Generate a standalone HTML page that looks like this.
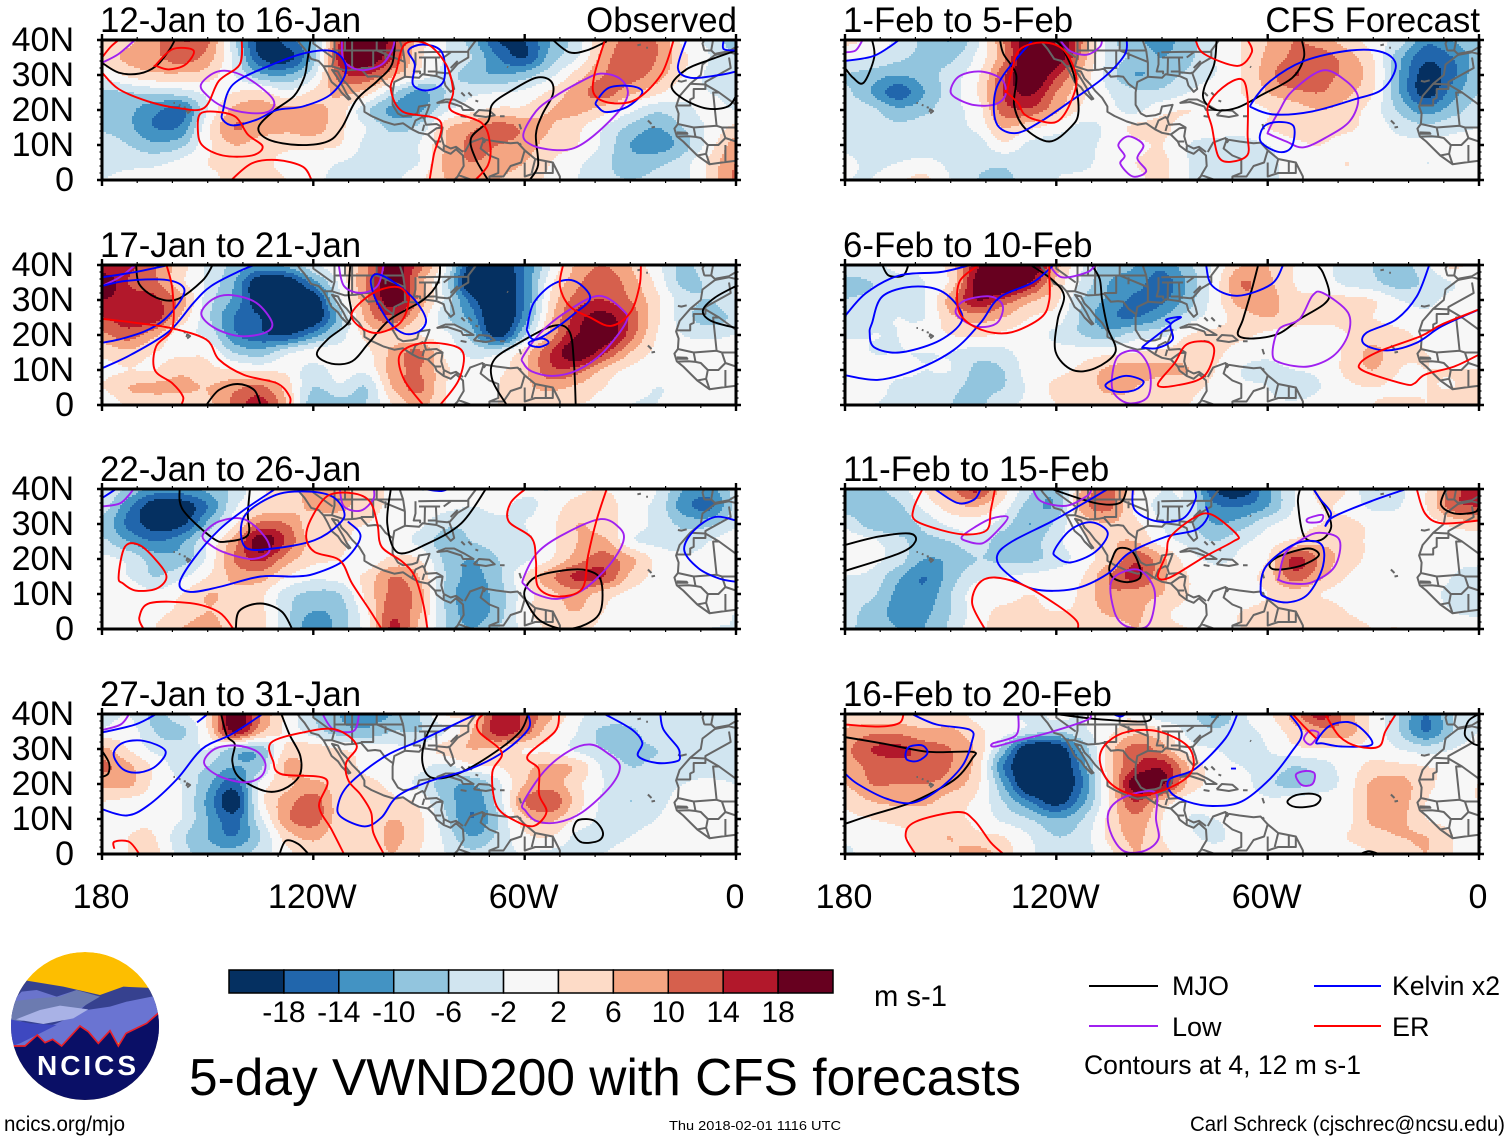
<!DOCTYPE html>
<html lang="en">
<head>
<meta charset="utf-8">
<title>5-day VWND200 with CFS forecasts</title>
<style>
html,body{margin:0;padding:0;background:#fff;}
svg{display:block;}
text{font-family:"Liberation Sans",Arial,sans-serif;fill:#000;}
</style>
</head>
<body>
<svg id="chart" xmlns="http://www.w3.org/2000/svg" width="1510" height="1141" viewBox="0 0 1510 1141">
  <defs>
    <clipPath id="logo-clip"><circle cx="85" cy="1026" r="74"/></clipPath>
  </defs>
  <rect x="0" y="0" width="1510" height="1141" fill="#fff"/>
  <g id="panels"></g>

  <g id="colorbar"></g>
  <text x="874" y="1006" font-size="30" textLength="73" lengthAdjust="spacingAndGlyphs">m s-1</text>

  <text x="189" y="1095" font-size="52" textLength="832" lengthAdjust="spacingAndGlyphs">5-day VWND200 with CFS forecasts</text>

  <g>
    <line x1="1089" x2="1158" y1="986" y2="986" stroke="#000" stroke-width="2"/>
    <text x="1172" y="995" font-size="27">MJO</text>
    <line x1="1314" x2="1381" y1="986" y2="986" stroke="#0000ff" stroke-width="2"/>
    <text x="1392" y="995" font-size="27" textLength="108" lengthAdjust="spacingAndGlyphs">Kelvin x2</text>
    <line x1="1089" x2="1158" y1="1026" y2="1026" stroke="#a020f0" stroke-width="2"/>
    <text x="1172" y="1036" font-size="27">Low</text>
    <line x1="1314" x2="1381" y1="1026" y2="1026" stroke="#ff0000" stroke-width="2"/>
    <text x="1392" y="1036" font-size="27">ER</text>
    <text x="1084" y="1074" font-size="27" textLength="277" lengthAdjust="spacingAndGlyphs">Contours at 4, 12 m s-1</text>
  </g>

  <text x="4" y="1131" font-size="21" textLength="121" lengthAdjust="spacingAndGlyphs">ncics.org/mjo</text>
  <text x="669" y="1130" font-size="13" textLength="172" lengthAdjust="spacingAndGlyphs">Thu 2018-02-01 1116 UTC</text>
  <text x="1190" y="1131" font-size="21" textLength="315" lengthAdjust="spacingAndGlyphs">Carl Schreck (cjschrec@ncsu.edu)</text>

  <g clip-path="url(#logo-clip)">
    <circle cx="85" cy="1026" r="74" fill="#fdbe00"/>
    <g transform="translate(0,940) scale(0.33333)">
      <polygon fill="#36418f" points="30,190 80,122 190,140 300,165 370,140 480,145 480,300 30,300"/>
      <polygon fill="#6a74cc" points="30,190 65,155 110,150 170,170 230,150 280,175 240,210 30,250"/>
      <polygon fill="#6c7bb0" points="30,185 110,175 180,170 230,150 300,170 240,205 120,230 30,250"/>
      <polygon fill="#6a74d2" points="260,210 330,200 380,185 480,165 480,300 40,330 40,300 170,250"/>
      <polygon fill="#a9b2e6" points="48,238 120,210 180,197 265,208 220,235 130,252"/>
      <polygon fill="#3e48c0" points="30,238 90,250 170,255 60,310 30,320"/>
      <polygon fill="#0a0f66" stroke="#e8202a" stroke-width="5" points="38,318 75,318 112,285 135,308 158,298 185,318 240,258 265,275 295,310 330,272 355,318 378,280 440,250 480,215 490,500 20,500"/>
    </g>
    <text x="37" y="1075" font-size="28" font-weight="bold" textLength="99" lengthAdjust="spacing" style="fill:#fff">NCICS</text>
  </g>
</svg>

<script>
// ---------- chart data ----------
const lonGrid = [180,172.5,165,157.5,150,142.5,135,127.5,120,112.5,105,97.5,90,82.5,75,67.5,60,52.5,45,37.5,30,22.5,15,7.5,0];
const latGrid = [40,35,30,25,20,15,10,5,0];
const latTicks = [40,30,20,10,0];
const latLabels = ["40N","30N","20N","10N","0"];
const lonTicks = [180,120,60,0];
const lonLabels = ["180","120W","60W","0"];
const colorLevels = [-18,-14,-10,-6,-2,2,6,10,14,18];
const colorLabels = ["-18","-14","-10","-6","-2","2","6","10","14","18"];
const fillColors = ["#053061","#2166ac","#4393c3","#92c5de","#d1e5f0","#f7f7f7","#fddbc7","#f4a582","#d6604d","#b2182b","#67001f"];
const panelTitles = ["12-Jan to 16-Jan","1-Feb to 5-Feb","17-Jan to 21-Jan","6-Feb to 10-Feb","22-Jan to 26-Jan","11-Feb to 15-Feb","27-Jan to 31-Jan","16-Feb to 20-Feb"];
const panelTags = ["Observed","CFS Forecast","","","","","",""];

const vwndJan12 = [
[4,5,9,14,11,-5,-20,-16,-8,14,24,16,4,-2,-8,-18,-18,-10,-4,6,12,10,1,-3,-8],
[4,7,9,12,8,-3,-18,-20,-8,16,22,14,3,-2,-6,-14,-18,-8,-2,8,13,10,3,-2,-6],
[-1,3,5,5,4,-2,-9,-10,-3,12,14,7,1,-4,-8,-10,-8,-3,4,10,12,8,2,-3,-5],
[-7,-6,-5,-4,-1,2,3,-1,3,7,4,-5,-11,-6,-3,-2,-1,3,8,12,7,3,-1,-2,-3],
[-8,-9,-13,-15,-2,7,8,7,7,4,-5,-11,-11,-3,1,3,3,6,7,4,-1,-5,-3,-1,-2],
[-7,-9,-14,-13,1,10,8,7,8,3,-2,-7,-5,5,9,12,9,6,3,-2,-7,-10,-6,-1,3],
[-3,-6,-9,-7,1,6,4,3,3,2,-3,-4,-2,6,11,10,8,4,2,-3,-10,-12,-8,0,8],
[-3,-3,-3,-1,2,3,3,1,0,-2,-3,-3,-2,7,10,8,6,2,-1,-5,-8,-7,-4,3,10],
[-2,-1,0,0,1,3,3,2,-1,-3,-3,-3,1,6,8,6,4,1,-2,-5,-6,-5,-3,3,11]];
const vwndFeb1 = [
[3,1,-3,-7,-10,-3,10,22,24,10,-4,-9,-11,-8,-2,2,6,10,8,4,0,-4,-13,-10,-7],
[-1,-2,-5,-7,-7,-1,9,24,22,8,-3,-7,-10,-7,-2,2,7,11,12,8,2,-9,-17,-14,-8],
[-6,-8,-10,-8,-4,1,13,24,15,5,-4,-10,-8,-5,-2,2,8,14,11,9,3,-10,-20,-15,-7],
[-5,-10,-16,-10,-4,2,14,19,10,3,-2,-5,-5,-2,1,2,6,9,10,7,2,-10,-20,-12,-6],
[-3,-5,-9,-7,-3,0,12,13,7,1,-1,-3,1,2,1,0,2,4,6,4,0,-7,-12,-8,-4],
[-3,-4,-5,-4,-3,-1,6,3,0,-3,-1,3,3,0,0,-1,2,4,4,3,0,-3,-5,-3,-2],
[-3,-4,-4,-4,-3,-4,1,-3,-4,-3,-1,1,2,-2,-3,-3,-2,1,2,0,-1,-1,-1,-1,-1],
[-1,-3,-2,-1,-3,-5,-5,-4,-3,-3,0,2,3,-2,-3,-3,-3,0,1,2,1,1,-2,0,0],
[-2,-2,1,3,-2,-6,-7,-4,-2,-1,0,1,3,-2,-3,-2,-3,0,1,1,0,0,-1,0,0]];
const vwndJan17 = [
[14,15,10,4,-3,-7,-11,-9,-3,1,9,20,12,-1,-20,-22,-14,-2,7,10,6,-1,-7,-3,-2],
[22,14,11,3,-3,-10,-22,-22,-12,-1,10,22,8,-4,-24,-24,-14,1,9,13,8,1,-7,-5,-2],
[18,16,15,8,-4,-11,-22,-24,-22,-3,9,21,9,-3,-16,-24,-14,3,12,14,10,3,-4,-6,-2],
[14,16,16,5,-5,-14,-18,-24,-22,-8,7,13,5,-5,-12,-24,-12,5,16,20,13,3,-4,-8,-5],
[9,12,7,-1,-3,-13,-17,-18,-12,-4,3,5,2,-1,-8,-20,-6,8,18,22,12,2,-2,-3,-2],
[3,5,2,1,1,-6,-8,-3,0,0,1,7,11,1,-3,-3,4,14,22,15,6,1,0,0,0],
[1,2,2,5,3,2,1,1,-4,0,-1,8,10,3,-1,1,5,13,12,5,1,0,0,0,0],
[2,6,7,7,6,9,11,4,-6,-3,-6,6,11,2,-1,2,5,7,5,2,0,-2,-1,0,0],
[-2,3,3,3,5,11,16,6,-9,-8,-6,2,7,2,0,2,4,3,2,1,-2,-2,0,0,0]];
const vwndFeb6 = [
[-4,-3,-1,-1,4,17,24,24,8,-2,-8,-10,-13,-7,-1,6,6,2,-1,-3,-6,-8,-3,3,-1],
[-7,-6,-3,-2,3,20,26,18,5,-3,-10,-12,-16,-9,0,10,7,2,0,-3,-5,-8,-5,-2,-1],
[-6,-5,-3,-2,8,18,13,7,3,-6,-11,-15,-15,-8,0,8,8,3,3,3,2,-2,-3,-1,-2],
[-6,-3,-2,-2,5,8,6,2,0,-7,-13,-14,-10,-4,0,4,6,4,3,3,2,0,-1,0,-1],
[-3,-2,-2,0,2,3,1,0,-3,-6,-8,-4,-3,2,3,3,1,0,0,2,4,3,1,0,0],
[0,-2,-2,-2,-2,-4,-3,0,0,0,1,2,3,4,3,0,-1,0,-1,3,7,3,2,1,1],
[-2,0,-1,-2,-2,-7,-6,0,1,3,7,8,7,6,2,-2,-3,-2,-1,3,6,2,2,2,2],
[-2,0,-3,-3,-5,-7,-6,-1,3,4,7,6,3,3,1,-1,-2,-5,-2,1,2,1,2,2,3],
[-2,-2,-3,-4,-6,-7,-3,-1,2,4,4,5,3,2,1,2,-1,-1,0,1,2,3,2,3,3]];
const vwndJan22 = [
[-3,-7,-12,-12,-9,-5,1,4,7,7,4,1,-2,-1,0,0,-1,-2,1,2,-1,-2,-10,-12,-4],
[-4,-13,-21,-21,-14,-3,3,4,7,7,4,1,0,-1,-2,-1,-3,0,4,5,-1,-3,-12,-15,-5],
[-7,-15,-20,-19,-9,1,11,10,3,3,2,0,-1,-5,-5,-3,-2,1,6,4,0,-3,-7,-7,-3],
[-5,-10,-14,-11,-2,8,21,13,4,3,0,0,-3,-8,-6,-4,-3,1,6,7,-1,-3,-4,-2,1],
[-1,-3,-8,-8,-1,10,15,8,3,2,-1,3,2,-7,-10,-6,-3,2,8,12,7,1,-1,-1,2],
[0,-2,-6,-3,2,7,8,2,-1,0,3,10,6,-6,-11,-7,2,9,15,14,5,1,0,0,1],
[0,1,-1,2,6,5,3,-4,-7,-6,3,11,8,-7,-12,-8,0,5,8,4,1,0,-1,-1,-1],
[0,1,1,3,6,4,3,-5,-10,-8,1,13,7,-6,-12,-8,1,4,6,2,0,0,0,-1,-2],
[0,1,2,6,8,4,3,-5,-13,-8,0,15,5,-6,-10,-6,-1,3,3,1,-1,-1,-1,-2,-2]];
const vwndFeb11 = [
[-6,-7,-4,2,9,15,4,-5,-9,7,11,2,-2,-3,-18,-21,-11,-2,3,2,-6,-3,2,12,16],
[-8,-8,-7,-1,4,6,0,-8,-9,8,11,1,-3,-3,-13,-14,-10,-2,2,1,-3,-2,2,12,14],
[-3,-8,-8,-5,-1,0,-4,-10,-5,3,6,3,-2,-5,-10,-8,-3,0,2,3,1,0,0,3,5],
[0,-1,-5,-7,-6,-3,-9,-8,-3,1,5,6,0,-3,-6,-3,0,3,5,4,1,0,0,0,-1],
[-1,-1,-4,-10,-9,-6,-7,-7,-4,0,5,13,7,0,-3,-1,2,15,9,4,1,0,0,-1,-1],
[-2,-3,-9,-14,-8,-3,-2,-1,0,2,10,15,7,2,0,0,4,12,7,2,0,0,0,-2,-4],
[-3,-5,-11,-13,-6,0,0,2,0,3,9,8,6,2,0,0,2,4,2,0,0,0,-1,-3,-6],
[-4,-8,-11,-11,-6,0,3,3,2,3,7,7,3,1,1,2,3,4,5,2,1,1,0,-2,-3],
[-5,-8,-10,-10,-5,1,3,4,3,3,3,6,3,2,2,2,3,5,3,3,2,2,1,0,0]];
const vwndJan27 = [
[-4,-2,-7,-3,3,22,10,1,-6,-10,-12,-10,-6,2,3,16,13,7,-1,-3,-3,-3,-3,-5,-6],
[-1,0,-6,-7,2,18,7,1,-4,-8,-9,-6,-6,-2,6,16,12,3,-2,-7,-7,-3,-3,-3,-5],
[7,2,-3,-4,-2,-7,-8,3,4,2,0,-1,-1,4,6,5,2,1,-3,-6,-7,-6,-4,-3,-5],
[11,7,1,-4,-6,-10,-7,7,4,4,1,0,-1,-3,1,2,5,7,5,-3,-6,-5,-4,-4,-5],
[7,7,1,-2,-9,-16,-1,5,7,4,3,1,-3,-8,-10,-3,6,8,3,-2,-4,-3,-2,-1,-2],
[2,1,0,-2,-11,-21,0,8,12,4,3,3,1,-7,-13,-4,10,13,4,-3,-6,-3,-1,0,-1],
[0,1,1,-2,-10,-16,-3,9,12,4,3,6,3,-5,-14,-6,5,7,1,-3,-3,-2,0,-1,-1],
[0,2,2,-5,-10,-14,-6,4,7,3,3,7,3,-3,-10,-5,1,2,-3,-3,-2,-1,1,0,-1],
[-2,2,3,-4,-8,-8,-4,1,4,3,3,6,2,-2,-5,-3,-2,-3,-3,-2,-1,-1,0,0,0]];
const vwndFeb16 = [
[2,3,3,2,3,1,-1,-3,-1,-2,1,1,-5,-4,-11,-3,1,8,16,8,1,-6,-14,-6,-2],
[7,9,9,7,7,3,0,-4,-6,-3,1,5,3,-3,-5,-3,-1,4,8,8,1,-6,-14,-6,-2],
[9,14,15,12,10,5,-8,-23,-22,-9,4,12,8,0,-2,-3,-2,1,2,1,1,-2,-4,-2,0],
[8,11,12,13,10,4,-14,-24,-24,-12,4,14,17,6,0,-2,-3,-6,-4,0,3,3,2,1,1],
[6,10,10,10,8,3,-10,-24,-24,-14,3,21,19,5,1,0,-5,-7,-5,0,7,8,3,1,2],
[3,6,7,7,4,1,-6,-14,-20,-11,2,14,5,0,0,1,-1,0,1,1,7,8,2,1,2],
[1,2,3,3,3,1,-3,-6,-10,-6,3,9,2,-2,-2,0,0,1,1,1,7,7,2,1,1],
[-1,0,1,4,6,3,2,-2,-6,-4,3,7,2,-1,-3,0,0,0,0,2,4,6,6,2,0],
[-3,0,1,3,5,8,4,-1,-5,-4,1,6,3,1,0,0,0,0,1,1,2,3,6,2,0]];
const vwndPanels = [vwndJan12,vwndFeb1,vwndJan17,vwndFeb6,vwndJan22,vwndFeb11,vwndJan27,vwndFeb16];

// contour series: one list per panel, each contour is lon,lat,lon,lat... (degrees W, degrees N)
const mjoContours = [
 [[180,33.5,175.3,30.7,169.4,30.4,164.6,32.6,161,37,159.3,40],
  [120.8,40,121.7,34,122.6,29.3,125.5,24,131.4,19.6,135.6,14.9,132.6,11.5,124.3,10,116,11,111.9,15,107.7,23,101.8,28.3,97.7,33,96.8,40],
  [52,40,47.3,36.5,42.5,37,36.7,39.6],
  [70.4,0,74,6.2,75.2,12,70.4,16.8,69.2,21.6,64,25.4,56.8,29.2,52.6,28.3,52,24.4,55,18.7,56.8,13,56.2,4.3,58.6,0],
  [0,37,7,34.5,14.1,31.6,18.3,26.9,14.7,23,8.2,20.4,2.3,21,0,24]],
 [[172.3,40,171.7,35,174.7,27.8,177.7,29.2,180,32],
  [136,40,135,36,131.4,30,132,21.5,129,14.9,122,11,116,15,113.7,19.6,115,30,118.4,37.9,120.8,40],
  [74.5,40,75.2,33,78,26.4,78,22.6,74.6,20,68.6,20.7,61.5,24.4,53,29.2,49.7,35,50.3,40]],
 [[170.3,40,169.4,34.5,164.6,30.7,158.7,30.2,151.6,35.4,148.6,40],
  [109.5,40,110,32,109.5,24.4,116,18.7,119,14.4,114.8,11.8,109,12.5,104.2,17.8,98.3,24.4,88.8,30,84.6,35,84,40],
  [150.4,0,146.8,4.3,141.5,6,136.8,4.3,135,0],
  [65.1,0,69.2,7.2,68.6,13,61.5,17.8,52,22.6,47.3,21,46,11.8,45.5,0],
  [0,34,6,30.7,9.4,27,7,24,0,22]],
 [[169.4,40,167.6,37,163.5,37,162,40],
  [127.3,40,120.8,35.5,117.8,31,119.6,24.4,120.2,15.2,115.4,10,109,10.5,103.2,15.2,105.4,22,107,30,107.7,36,110,40],
  [62.7,40,64.5,33,67,24.5,68.4,20,64,19,56.8,20.4,51,24.5,44,28.8,42.5,32,44.3,37.8,46,40]],
 [[158,40,157,34,148.6,26,144.5,25,138.6,26.8,138.6,33,138,40],
  [98,40,99,30,96,21.8,87.6,24.4,78,30.2,71,40],
  [142,0,141,5.2,135,7.3,129,5,126,0],
  [60,11,56.8,14.9,48.5,16.8,42.5,16.8,38.4,14,38.4,5.3,42.5,1.4,49,0,55.6,2.4,59.2,7.2]],
 [[180,24,170.5,26.4,161.7,27.3,160,25,164.6,21.6,180,16.6],
  [121.4,40,109,36,102,36,100,40],
  [104.2,20,102.4,23,98.3,22,96,15.3,99.5,13.4,103.6,14.4,105,17],
  [50.8,40,51.4,36,49.6,26.4,45,25.4,42,29,43.4,34,47,40],
  [59.4,18.7,56.2,21,48.5,23,45.5,21,50.8,18,57.9,17],
  [9.4,40,10.8,35.5,7,33,1,33.5,0,36]],
 [[180,29.5,178,26,178.2,23,180,22],
  [129.1,40,126.7,34,123.7,28,124,22.3,128.5,18.5,133.8,18,141,21.8,143,26.5,142.3,31.4,144.5,33.7,146.2,40],
  [129.6,0,127.8,3.8,124.3,2.9,121.4,0],
  [84.6,40,88.2,32.8,89,26,86.4,21.8,79.3,22.8,70,28,61.5,34.7,59,40],
  [46,8,44.5,9.8,40.2,9.5,37.8,6.2,39,3.8,43.7,3.3,46,5.7]],
 [[180,33.4,169.4,31.6,156.3,29.2,143.9,29.2,143.9,27.3,148,22,154,18.2,162.3,14.3,173,11,180,8.6],
  [120,40,109,38.6,94.7,37.9,93.3,40],
  [54.4,14.9,52,16.8,47.3,17.2,45,16,46.7,13.9,52,13.4],
  [0,40,3,38,4,34,1.8,31.6,0,31],
  [33.6,0,31.3,0.8,28.4,0]]
];
const lowContours = [
 [[180,33.5,175.3,36,170.7,40],
  [151.9,27.3,148,30.7,143.3,31,137.4,28.3,131.4,23,132.6,19.6,138.6,19.2,145.7,21,150.4,24.4],
  [111.9,40,111.3,34,106.5,31.4,100.6,33,97.7,37,96.9,40],
  [60.4,13,56.8,19.6,52,23.5,43.7,28.3,38.4,30.4,33,29,30.7,25,33,20,40,13,46,9.1,52,8.6,58,10]],
 [[180,36.5,177,37,175,40],
  [150,25.8,147.5,29.7,141.5,31,135.6,28.8,134.4,24.4,137.4,21.6,143.3,21.4,148.6,23.5],
  [119,40,116,36.8,111.3,35.8,107.7,38,107,40],
  [102.4,10,99.5,12.5,95.3,10,97,6.2,94.5,2.5,98.3,1,101.8,4.6,100.6,6.9],
  [59.8,14,56.8,19.6,53,25.4,44.4,31.3,37.8,28.3,34.3,23.5,36.7,16.8,43.7,12,50,9.3,54.7,11,59.3,13]],
 [[180,34,175,36.5,170.5,40],
  [151.8,26,148.6,30.2,143.3,31.4,136.2,29.2,131.7,23.5,133.8,20.6,141,19.7,148,22],
  [112.8,40,111.3,34,106.6,32,101.8,34,100,40],
  [60.4,14,55.5,20.6,48.5,26.4,39,31.2,32,27,31.3,23.5,37.8,15,44.9,10,52,8.3,58,9.6,60.4,12]],
 [[148.6,27,145.7,30,138.6,31,135.2,28.3,136.8,23.5,142,22.3,146.8,24.4],
  [122,40,118.4,36.5,111.3,37.9,109,40],
  [104.2,8,102.4,14,97,15.3,93.5,10,94,2.4,99.4,0.5,103.6,3.3],
  [58.6,14.4,56.8,21.6,51,24.5,47.3,31.2,44.3,32,37.2,26.4,37.2,20,41.4,14,48.5,11,56.2,12]],
 [[180,35,174.7,36,171,40],
  [151.4,26.8,146.8,30.7,139.7,31.4,133.8,26.4,132.6,22,137.4,20,144.5,21.6,149.2,24],
  [112.5,40,111.3,35,106.6,33.8,103,37,102.8,40],
  [60.4,14.4,56.2,22,48.5,27.3,38.4,31.4,33,28.8,32,25,36,18.2,43.7,11,50.8,8.6,56.8,10,59.8,12.4]],
 [[126.7,40,124.3,36.5,117.2,35.2,111.3,38,110,40],
  [146.8,26.4,143.3,29,138.6,31.5,133.8,32,136.8,28,141,24.5,145.7,25.2],
  [104.2,14,97,17,92.4,12,92.4,5.2,94.7,0.5,100.6,1,103.6,5.2],
  [48.5,31.6,44.5,32.6,45,30.7,48.5,30.5],
  [56.8,14.9,55,21.6,49.6,26,45,27.5,39.6,25.4,41,17.8,47.3,13.4,53.2,13,56.8,14]],
 [[180,35.4,174.7,37,172.3,40],
  [151,26,148,30,142,31,136.2,29.4,133.6,25.7,135,22,139.7,20.5,146.8,22.3],
  [117.4,40,114.3,35.6,108.5,35.2,107,40],
  [60.4,14.7,54.4,23.7,47.3,29.5,41.4,31.3,36.7,29,33,25.2,35.5,19.5,43.7,11.9,50.8,9,56.8,9.5,59.8,12.4]],
 [[130.8,40,131.4,34,138,31.6,137.4,30.7,131.4,32.3,122,34.7,111.3,38.3,110.4,40],
  [105.4,11,103,14.9,97,17.5,91.7,17.3,91.7,10,91,4.4,94.7,1,100.6,0.7,104.2,5.2],
  [49.7,33,48,35.2,45.5,34.5,47.3,31.6,48.5,31.4],
  [52,22.6,49.3,23.7,46.7,23,47.3,20,50.3,19.7]]
];
const kelvinContours = [
 [[145.7,19.6,142.8,27.3,132.6,32.6,121.4,36.5,113.7,36.5,110.7,31.2,115,24.5,123,21,130.3,20,136.2,17.2,142.7,15.6,145.7,17.2],
  [93,37,88.8,38.7,83.5,36.5,83,28.3,87.6,25.6,91.7,27.3,91.2,33],
  [39.6,22.5,36,26.4,29.6,26.8,26.6,25,30.7,21,36.7,19.4,39.3,21],
  [14.1,40,16.5,32,12.9,29.2,4.7,30,0,31],
  [3.5,40,3.5,37.4,0,37]],
 [[180,34,171.7,35.5,164.6,40],
  [126.7,40,135,30,137.6,23.5,136.8,15.8,131.4,13.4,124.3,16.8,116,22.5,106.6,29.2,100.6,35.8,100,40],
  [64.5,22,59.2,28.3,49.7,34,36.7,37,27.3,36.5,23.6,32.6,27.3,26,35.5,23,47.3,19.6,58,18.7,64,20.5],
  [61,15.3,56.8,16.6,52.6,15.3,53.2,9.5,56.8,8,62,11]],
 [[180,36.5,170.5,38,161,40],
  [180,34,173,35.5,162.3,35.8,157,33.8,157.5,30.2,162.3,24.4,168,21,175.3,18.7,180,17.8],
  [180,10.5,171.7,14.4,161,21,154,29.2,149,34,141.5,38,136.8,40],
  [103.6,36,101.8,37.4,97,35,91.2,30,88,24.4,90,21,94.2,20.4,98.3,23.5,101.8,29.2,103.3,33],
  [59.2,22.6,57.4,29.2,52,34.5,46,35.5,41.4,30.7,46,26,53.2,20.6,57.4,18.7,59.2,21],
  [58.6,18,55,19,53.2,17.8,55.6,16.6,58.3,17]],
 [[180,25.4,174,32,164.6,37,152.8,38,144.5,40],
  [172.3,23.5,169.4,31,161,33.8,152.8,32.6,147.4,27.3,147.4,23,154,18,164.6,15,171.7,16.5,173,20.6],
  [180,8.5,170.5,7.2,160,10,149,15.8,141.5,23.5,136.2,30.7,126.7,35,120.8,40],
  [106,5.8,100.6,8.3,95.3,6.8,97.7,4.3,103,3.8],
  [95.3,16.8,90,21,87.6,23,88.8,24.4,84.6,25.1,87.6,23,87,18.7,91.2,16.3,94.7,16.3],
  [77.5,40,75.7,34,68.6,31.2,59,34.5,55.6,40],
  [14.1,40,17.7,31,23.6,24.4,32,20.6,32.5,17.3,26,15.6,17.7,17.8,10.6,22.5,0,27.3]],
 [[180,37.4,176,40],
  [110.2,30.7,106.6,26.4,111.3,19.6,119.6,15.8,125.5,15,135,15,146.8,12,155,10.6,158,13,154,20,146.8,28.3,139.7,34,130.8,40],
  [139.7,32,139.4,23.5,131.4,23,119.6,25.4,112.5,30.2,111.3,33.6,114.9,38,123,39.3,131.4,38],
  [88.8,40,84,39.4,81.8,40],
  [0,31,6,32,11.8,28.3,14.7,22.6,10.6,17.3,4.7,14.4,0,13.5]],
 [[154.5,40,148,36,143.3,37,141.5,40],
  [98.3,40,97.7,34,91.2,30.7,84,31.6,80.5,37,80.8,40],
  [105.4,40,111.3,36.5,120.8,31,132.6,25,136.8,21,135,16.8,126.7,11.5,114.9,11.5,105.4,15.8,99.5,21.6,88.8,26.4,80.5,28.3,77,32,77.5,35],
  [120.5,22.6,116,28.3,110,30.5,105.4,27.4,109,22,116,19,120,20.6],
  [62,11,60.4,18,52,24.4,45,24.4,44.3,18,48.5,10,54.4,7.6,60.4,9],
  [47,40,45,37,42,33,43.7,29.3],
  [43.7,29.3,41.4,32,30.7,36.5,20.6,40]],
 [[180,34.7,170.5,37,164.6,40],
  [180,12.8,173,11,167,13.8,158.7,21.4,151.6,30,143.3,34.2,134.4,40],
  [176.7,28.5,174,31.8,168,32.3,162,29.5,164.6,25.2,169.4,23.3,174,24.2],
  [153,37.6,150,40],
  [73.7,40,88.8,32.8,99.5,28,109.8,20,113,14,112,10.5,105.4,7.9,100.6,10.5,96,16.6,86.4,21,75.7,24.2,66.3,29,59,35.6,59,40],
  [37.3,40,29.6,35.6,26.6,31.8,27.8,28,22.4,26,16.5,26.6,16,28.5],
  [21.5,40,20.6,35.6,16.5,30.4,16,28.5]],
 [[161,40,154,37,144.5,35.5,144,32,146.8,25,154,18,161,14.6,168.2,15.8,176.4,20,180,23],
  [162.8,28.8,161.6,30.7,158,31,156.6,28.8,159.3,26.6,162.3,26.9],
  [104,40,101.8,39.3,100.4,40],
  [68.6,40,72,33,80.5,24.4,87.8,21.4,87.6,17.7,82.9,15,75.7,13.7,67.4,15,59.2,21.6,53.2,29.2,50.3,34.5,53.8,40],
  [70.4,24.4,69,24.4],
  [46.2,32,42.6,36.5,37.2,37.7,33,35.5,30.5,31.2,39,30.7,44.3,31.6]]
];
const erContours = [
 [[180,30.7,175.3,26,167,22.5,158.7,20.6,151,20.6,146.8,28.3,140.9,33,140.3,40],
  [180,35,177.6,38,175.3,40],
  [164.6,33,159.9,37.4,154,37,156.3,33,161,31.6,164.6,32.6],
  [152,19,147.4,19.5,142,18,138.6,13,134.4,9.6,137.4,7,145.7,7,151.6,10,152.8,14.8],
  [143.3,0,137.4,4.8,130.3,5.7,123,3.8,120.5,0],
  [87,0,85.8,7.2,84,16.8,94.7,19.6,98,25.9,96.5,31,94,38.8,87.6,38.8,82.3,33,80.3,25.4,81,20,72.2,16.3,69.8,10.1,70.4,4.3,74,0],
  [37.2,40,40.2,30,40.2,24.4,35.5,22,28.4,23,21.2,30.2,17.7,40]],
 [[134.4,25.4,130.9,22,129,18.7,124.3,16.8,119.6,16.8,116,22,114.3,29.2,117.8,37,123.7,39.3,130.3,37.4,132.6,31.5,134,25.4],
  [80.5,40,78,36,68.6,32.6,64.5,36.5,65.7,40],
  [77,21,72.8,26.4,67.4,28.8,65.7,23.5,65.7,13,65.7,7.2,70.4,5.2,74,6.7,75.8,15]],
 [[180,24.6,170.5,23.5,160.5,22,150.4,18.7,146.8,13,139.7,8.6,130.3,6.2,126.7,2.4,126.7,0],
  [161.7,40,160,33,160,22,164.6,16.8,165,10,160,6.2,157,2.4,157.5,0],
  [109,26.4,103,32,96,33.7,93,30,95.3,23.5,101.8,20.6,107,22.5],
  [88.8,0,94.2,7.2,95.6,14,91,17.3,83,17.5,77.5,15,78.7,7.2,84,0],
  [49.1,40,50,34,47.3,28.3,41.4,25,35.5,22.6,30,26.4,27.4,34,27,40]],
 [[142,40,147.4,35.4,148,28.3,145.7,24,139.7,21,132.6,20.8,124.3,25,122,30,122,37,122,40],
  [91.2,5.7,86.4,12,83,17.3,77,18,75.2,15,78.1,8.2,85.3,5.7],
  [0,27.3,10.6,23,16.5,19.7,28.4,15.3,33.7,12,32.5,9.6,21.2,6,18.3,6.2,15.3,8.7,7,11,0,14.4]],
 [[175.3,14.9,173.5,23.5,169.4,24,164.6,19.6,161.7,14.9,164.6,11.5,170.5,11,174,13],
  [168.2,0,169.4,3.3,166.4,7.4,155,7.4,146.8,4.8,142.7,0],
  [100.6,0,104.2,5.7,109,13,112.5,19.6,119.6,22,122,25.9,120.8,31.1,116,38,109,38.8,104,36.5,101.8,30,100.6,23.5,94.7,19.2,91.2,15,88.8,7.2,87.6,0],
  [59.8,40,64,36,64.5,30.7,58,26,56.8,19.6,56.2,12,50.8,9.3,43.7,11.5,42,21,39.6,31,36.7,40]],
 [[158,40,160.5,34.5,160,31,152.8,28.3,145.7,27,139.7,28.3,138.6,34,137.4,40],
  [140.3,0,143.9,7.2,142,13,137.4,14.7,129,12.4,119.6,6.7,114.3,2.4,113.9,0],
  [91.2,15,88.8,21.3,87.6,26.4,80.5,32,75.7,32.6,68.6,26.8,69.8,25,78,20.6,87.6,14.8],
  [17.7,40,15.3,33,10.6,30.2,0,31]],
 [[100,0,103,6.2,103.6,11.9,106.6,17,110,20.9,110.7,26,107.7,31,113.7,35.6,123,34.7,132,31.8,131.4,26.5,129,22.8,116.4,21.4,118.4,13.7,114.9,7.1,111.3,0],
  [176.5,1.5,176.5,3.5,172.3,3.5,169.4,0],
  [50.2,40,51.4,35,59.2,28,56,24.2,55.9,17,53.8,12,57.4,8,62.7,9.5,68,13.8,69.2,23.3,66.5,29,72.8,34.7,73.4,38,71.7,40]],
 [[180,37,170.5,36.4,164.6,37.4,163.4,40],
  [107.7,27.3,105.4,32,99.5,35,91,35,82.9,31,81,25.4,84,21,92.4,17.3,99.5,17.3,105.4,21],
  [160,0,162.8,5.2,160,9.2,148,12,143.3,9.6,138.6,3.3,135,0],
  [53,40,49.7,36.5,46.2,33],
  [43.7,40,39.6,33.6,34.3,30.7,28.4,30.7,26.6,35,23.6,40]]
];
const contourSeries = ["mjo","low","kelvin","er"];
const contourLists = [mjoContours,lowContours,kelvinContours,erContours];
const contourColors = ["#000000","#a020f0","#0000ff","#ff0000"];

// map outline, lon,lat,lon,lat...
const mapOutlines = [
 [124.5,40,123.8,39,122.5,37.5,120.6,34.6,118.5,34,117.1,32.5,116,30.5,114.8,28,113,26.5,112,25,110,23,109.5,23.2,110.5,24.5,111.5,26.5,113,29,114.7,31.5,113,31,112,29,110.5,27.5,109,25.5,107,23.5,105.5,21,105.5,19.5,103.5,18.3,100,16.7,97,15.8,94.5,16.2,92,14.5,90,13.5,87.5,13,85.5,11,85,9.8,83,8.3,81,7.5,79.5,8.8,77.5,7,77.3,4,78.5,2,79,1,80,0],
 [77.5,8,79.5,9.5,81,9,83,10,83.7,12.5,83.3,15,85,16,88,15.8,88.5,17.5,87.5,20,87,21.5,90,21,90.5,19,92,18.5,94.5,18.2,96,19,97.5,21.5,97.5,25,97,28,94,29.5,90,29.2,89,30.2,85,29.7,83,28.8,82.5,27,81,25.2,80,26,80.5,28,81.4,30.5,79,33.2,76,35,76,37,74,39.7,74,40],
 [77,8,75.5,10.7,72,12,71.5,10.8,71,11.5,68,11,64,10.5,62,10.7,60,8.5,57,6,52,5,50,1,50,0],
 [71.5,12,72.5,9,70,7,67.5,6,67.5,2,70,1,70,0],[60,8.5,61,5,64,4,66,1,70,1],[60,5,60,1,57,2,54,2,54,5.5],[57,6,58,2],[52,5,52,2,54,2],[79,1.5,75,0],
 [92,14.5,91,17,89,18,88.5,17.5],[89,14,88.5,15.8],[87.5,13,85,14.8,83.3,15],[85.5,11,83.7,11],[83,8.3,83,9.7],
 [117,32.5,114.7,32.5,111,31.3,108,31.5,106.5,31.8,104.5,29.5,102.5,29.7,101,29.5,99.5,27.5,97.5,26],
 [114,37,94.5,37],[90,35,84,35],[114,37,114,35.2,114.7,32.5],[109,40,109,31.3],[103,37,103,32,106.5,32],[94.5,37,94,33.5,94,29.7],[91,36.5,91,33,91.5,31,89.7,31,89.7,30.2],[88.3,35,88.4,30.3],[85.2,35,85,31,85,30],[87.5,31,85,31],[85,30.8,82,30.5,81.4,30.7],[120,40,120,39,114.5,35],[114,40,114,37],[102,40,102,37],[95.5,40,94.5,37],[102,37,94,33.7],[90.2,36.5,84,36.6,76,36.6],[81,36.5,83,35],[79,34,81,32],[111,40,111,37],[99.5,36.5,99.5,34.5],
 [85,22,82.5,23,80,23,77,21.5,74.5,20,77.5,20,78,21,82,22.3,85,22],
 [74.5,18.5,73,20,70,19.8,68.5,18.5,71,18,74.5,18.5],[78.2,18.3,76.5,18],[67,18.2,65.7,18.2],[78,25,77,24],[76,25,75,24],[74,22.7,73.2,22.4],[61.5,16,61,14.5],[61.5,10.5,61,10],
 [155.8,19,155,19.7,155.8,20.2,156,19.4],[156.8,20.8,156.2,20.7],[158.2,21.5,157.7,21.3],[159.7,22,159.3,22],
 [16.5,28.3,15.5,28.1,14,28.5],[25,17,24,16],[24,15,23,15.2],[28,38.5,27,38.7],[25.5,37.8,25,37.8],[65,32.4,64.7,32.2],
 [9,37,7,37,6,36,5.3,36.2,2,36.8,0,38],[9,37,9.5,39,9,40],[6.5,40,7,37.2],
 [0,36,2,36.5,5.5,35.8,6,35.7,9.5,33,10,30,13,27.5,16,24,17,21,16.3,19,16.5,16,17.5,14.7,16.8,12.5,15,11,13,9,11,7,7.5,4.5,4,5,0,5.5],
 [2,35,1.5,32,8.7,28,8.7,27.3,13,27.5],[8.7,27.3,8.7,26,12,26,12,23.5,13,23,13,21.3,17,21.3],[8.7,27.3,4.8,25,6.5,25,5.5,15.5,12,15,16.5,16],[4.8,25,0,21.5],[5.5,15.5,4,15],[4,15,3,12,5,10,8,10,8.5,7.5,11,7],[12,15,11.5,12.3,13.5,12.5,16.7,12.4],[16.8,13.6,14,13.5,13.8,13.2,16.8,13.2],[8,10,10,12,11.5,12.3],[7.5,4.5,8.5,7.5],[3,12,0,11],[3,5,3,10],[0,15,1,15,4,15]
];

// ---------- axis functions ----------
const NS = "http://www.w3.org/2000/svg";
const frameWidth = 634, frameHeight = 140;
const colLeft = [102,845];
const rowTop = [40,265,489,714];
function makeX(x0){ return function(lon){ return x0 + (180-lon)/180*frameWidth; }; }
function makeY(y0){ return function(lat){ return y0 + (40-lat)/40*frameHeight; }; }
function el(tag){ return document.createElementNS(NS,tag); }

function cr(p0,p1,p2,p3,t){
  return 0.5*((2*p1)+(-p0+p2)*t+(2*p0-5*p1+4*p2-p3)*t*t+(-p0+3*p1-3*p2+p3)*t*t*t);
}
function sampleField(grid,lon,lat){
  const lonStep = lonGrid[0]-lonGrid[1];
  const latStep = latGrid[0]-latGrid[1];
  const fx = (lonGrid[0]-lon)/lonStep, fy = (latGrid[0]-lat)/latStep;
  const ix = Math.min(Math.floor(fx),lonGrid.length-2), iy = Math.min(Math.floor(fy),latGrid.length-2);
  const tx = fx-ix, ty = fy-iy;
  function at(r,c){
    r = Math.max(0,Math.min(latGrid.length-1,r));
    c = Math.max(0,Math.min(lonGrid.length-1,c));
    const row = grid[r];
    const v = row[c];
    return v===undefined?0:v;
  }
  const vals = [];
  for(let r=-1;r<=2;r++){
    vals.push(cr(at(iy+r,ix-1),at(iy+r,ix),at(iy+r,ix+1),at(iy+r,ix+2),tx));
  }
  return cr(vals[0],vals[1],vals[2],vals[3],ty);
}
function levelIndex(v){
  let i = 0;
  while(i<colorLevels.length && v>=colorLevels[i]) i++;
  return i;
}
function nearEdge(lon,lat){ return lat>=39||lat<=1||lon>=179.5||lon<=0.5; }
function smoothPath(pts,closed){
  const n = pts.length;
  if(n<2) return "";
  function P(i){ return closed ? pts[(i+n)%n] : pts[Math.max(0,Math.min(n-1,i))]; }
  let d = "M"+pts[0][0].toFixed(1)+" "+pts[0][1].toFixed(1);
  const segs = closed ? n : n-1;
  for(let i=0;i<segs;i++){
    const a=P(i-1),b=P(i),c=P(i+1),e=P(i+2);
    d += "C"+(b[0]+(c[0]-a[0])/6).toFixed(1)+" "+(b[1]+(c[1]-a[1])/6).toFixed(1)+" "+
         (c[0]-(e[0]-b[0])/6).toFixed(1)+" "+(c[1]-(e[1]-b[1])/6).toFixed(1)+" "+
         c[0].toFixed(1)+" "+c[1].toFixed(1);
  }
  return d+(closed?"Z":"");
}

// ---------- panels ----------
const panelsRoot = document.getElementById("panels");
panelTitles.forEach(function(title,p){
  const col = p%2, row = Math.floor(p/2);
  const x0 = colLeft[col], y0 = rowTop[row];
  const xs = makeX(x0), ys = makeY(y0);
  const g = el("g");
  
  
  panelsRoot.appendChild(g);

  const clip = el("clipPath");
  clip.setAttribute("id","clip-"+p);
  const clipRect = el("rect");
  clipRect.setAttribute("x",x0);
  clipRect.setAttribute("y",y0);
  clipRect.setAttribute("width",frameWidth);
  clipRect.setAttribute("height",frameHeight);
  clip.appendChild(clipRect);
  g.appendChild(clip);

  // filled field
  const cell = 2;
  const dParts = fillColors.map(function(){ return []; });
  const grid = vwndPanels[p];
  for(let py=0;py<frameHeight;py+=cell){
    const lat = 40-(py+cell/2)/frameHeight*40;
    let runStart = 0, runLevel = -1;
    for(let px=0;px<=frameWidth;px+=cell){
      let lev = -2;
      if(px<frameWidth){
        const lon = 180-(px+cell/2)/frameWidth*180;
        lev = levelIndex(sampleField(grid,lon,lat));
      }
      if(lev!==runLevel){
        if(runLevel>=0){
          dParts[runLevel].push("M"+(x0+runStart)+" "+(y0+py)+"h"+(px-runStart)+"v"+cell+"h-"+(px-runStart)+"z");
        }
        runStart = px; runLevel = lev;
      }
    }
  }
  const fillGroup = el("g");
  
  
  fillGroup.setAttribute("clip-path","url(#clip-"+p+")");
  g.appendChild(fillGroup);
  fillColors.forEach(function(color,i){
    if(!dParts[i].length) return;
    const path = el("path");
    path.setAttribute("d",dParts[i].join(""));
    path.setAttribute("fill",color);
    path.setAttribute("shape-rendering","crispEdges");
    
    
    fillGroup.appendChild(path);
  });

  // map outlines
  const coast = el("path");
  let cd = "";
  mapOutlines.forEach(function(line){
    for(let i=0;i<line.length;i+=2){
      cd += (i===0?"M":"L")+xs(line[i]).toFixed(1)+" "+ys(line[i+1]).toFixed(1);
    }
  });
  coast.setAttribute("d",cd);
  coast.setAttribute("fill","none");
  coast.setAttribute("stroke","#666666");
  coast.setAttribute("stroke-width","2");
  coast.setAttribute("stroke-linejoin","round");
  coast.setAttribute("clip-path","url(#clip-"+p+")");
  
  
  g.appendChild(coast);

  // contours
  contourLists.forEach(function(list,s){
    list[p].forEach(function(line){
      const pts = [];
      for(let i=0;i<line.length;i+=2){ pts.push([xs(line[i]),ys(line[i+1])]); }
      const last = line.length-2;
      const closed = !nearEdge(line[0],line[1]) && !nearEdge(line[last],line[last+1]);
      const path = el("path");
      path.setAttribute("d",smoothPath(pts,closed));
      path.setAttribute("fill","none");
      path.setAttribute("stroke",contourColors[s]);
      path.setAttribute("stroke-width","1.9");
      path.setAttribute("clip-path","url(#clip-"+p+")");
      
      
      g.appendChild(path);
    });
  });

  // frame
  const frame = el("rect");
  frame.setAttribute("x",x0);
  frame.setAttribute("y",y0);
  frame.setAttribute("width",frameWidth);
  frame.setAttribute("height",frameHeight);
  frame.setAttribute("fill","none");
  frame.setAttribute("stroke","#000");
  frame.setAttribute("stroke-width","3");
  
  
  g.appendChild(frame);

  // ticks
  let major = "", minor = "";
  for(let lon=0;lon<=180;lon+=10){
    const x = xs(lon).toFixed(1);
    const big = lonTicks.indexOf(lon)>=0;
    const len = big?6:3;
    const seg = "M"+x+" "+(y0+frameHeight)+"v"+len+"M"+x+" "+y0+"v-"+len;
    if(big) major+=seg; else minor+=seg;
  }
  for(let lat=0;lat<=40;lat+=2){
    const y = ys(lat).toFixed(1);
    const big = latTicks.indexOf(lat)>=0;
    const len = big?5:2.5;
    const seg = "M"+x0+" "+y+"h-"+len+"M"+(x0+frameWidth)+" "+y+"h"+len;
    if(big) major+=seg; else minor+=seg;
  }
  const tickMajor = el("path");
  tickMajor.setAttribute("d",major);
  tickMajor.setAttribute("stroke","#000");
  tickMajor.setAttribute("stroke-width","2.4");
  
  
  g.appendChild(tickMajor);
  const tickMinor = el("path");
  tickMinor.setAttribute("d",minor);
  tickMinor.setAttribute("stroke","#000");
  tickMinor.setAttribute("stroke-width","1.2");
  
  
  g.appendChild(tickMinor);

  // title
  const t = el("text");
  t.textContent = title;
  t.setAttribute("x",x0-2);
  t.setAttribute("y",y0-8);
  t.setAttribute("font-size","34.8");
  
  
  g.appendChild(t);
  if(panelTags[p]){
    const tag = el("text");
    tag.textContent = panelTags[p];
    tag.setAttribute("x",x0+frameWidth+1);
    tag.setAttribute("y",y0-8);
    tag.setAttribute("font-size","34.8");
    tag.setAttribute("text-anchor","end");
    
    
    g.appendChild(tag);
  }

  // latitude labels (left column only)
  if(col===0){
    latTicks.forEach(function(lat,i){
      const l = el("text");
      l.textContent = latLabels[i];
      l.setAttribute("x",74);
      l.setAttribute("y",ys(lat)+11);
      l.setAttribute("font-size","34");
      l.setAttribute("text-anchor","end");
      
      
      g.appendChild(l);
    });
  }
  // longitude labels (bottom row only)
  if(row===3){
    lonTicks.forEach(function(lon,i){
      const l = el("text");
      l.textContent = lonLabels[i];
      l.setAttribute("x",xs(lon)-1);
      l.setAttribute("y",908);
      l.setAttribute("font-size","34");
      l.setAttribute("text-anchor","middle");
      
      
      g.appendChild(l);
    });
  }
});

// ---------- colorbar ----------
const cb = document.getElementById("colorbar");
const cbX = 229, cbY = 970, cbW = 604, cbH = 23;
const boxW = cbW/fillColors.length;
fillColors.forEach(function(color,i){
  const r = el("rect");
  r.setAttribute("x",cbX+i*boxW);
  r.setAttribute("y",cbY);
  r.setAttribute("width",boxW);
  r.setAttribute("height",cbH);
  r.setAttribute("fill",color);
  r.setAttribute("stroke","#000");
  r.setAttribute("stroke-width","1.5");
  
  
  cb.appendChild(r);
});
colorLabels.forEach(function(label,i){
  const t = el("text");
  t.textContent = label;
  t.setAttribute("x",cbX+(i+1)*boxW);
  t.setAttribute("y",1022);
  t.setAttribute("font-size","30");
  t.setAttribute("text-anchor","middle");
  
  
  cb.appendChild(t);
});
</script>
</body>
</html>
